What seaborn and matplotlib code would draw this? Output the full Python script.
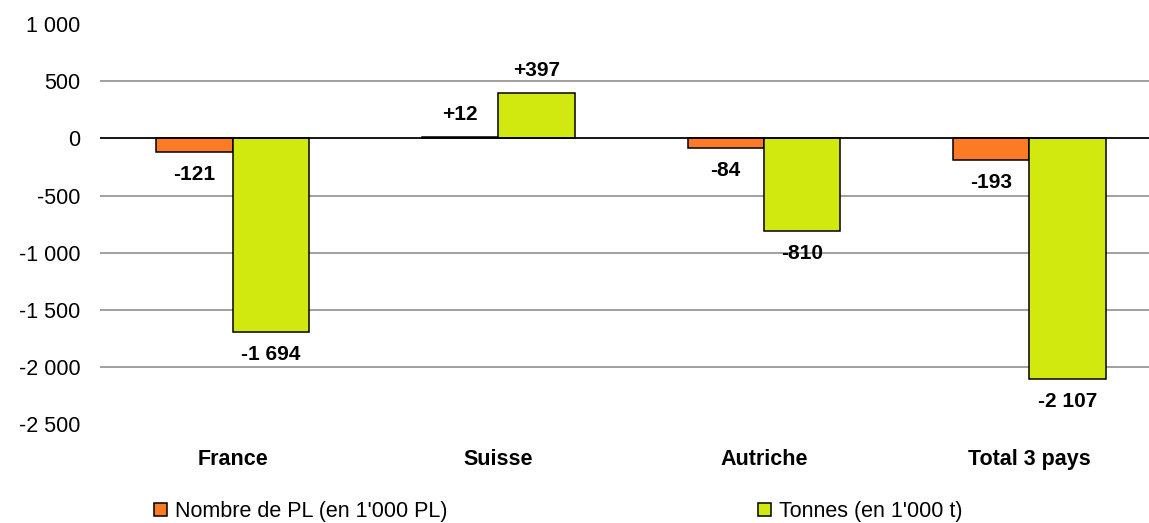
import matplotlib
matplotlib.use("Agg")
import matplotlib.pyplot as plt
from matplotlib.ticker import FuncFormatter, MultipleLocator
import seaborn as sns
import pandas as pd

# Variation par pays / séries
pays = ["France", "Suisse", "Autriche", "Total 3 pays"]
series = ["Nombre de PL (en 1'000 PL)", "Tonnes (en 1'000 t)"]
nombre_pl = [-121, 12, -84, -193]
tonnes = [-1694, 397, -810, -2107]

couleurs = ["#FD7B25", "#D2E90F"]

df = pd.DataFrame({
    "pays": pays * 2,
    "serie": [series[0]] * len(pays) + [series[1]] * len(pays),
    "valeur": nombre_pl + tonnes,
})

sns.set_theme(style="white")
plt.rcParams["font.family"] = ["Liberation Sans", "DejaVu Sans"]
plt.rcParams["text.color"] = "black"

fig = plt.figure(figsize=(11.49, 5.23), dpi=100)
ax = fig.add_axes([0.087, 0.189, 0.913, 0.765])

sns.barplot(data=df, x="pays", y="valeur", hue="serie", order=pays,
            hue_order=series, palette=couleurs, saturation=1, width=0.575,
            edgecolor="black", linewidth=1.1, ax=ax)

ax.set_ylim(-2500, 1000)
ax.set_xlim(-0.5, 3.45)
ax.yaxis.set_major_locator(MultipleLocator(500))


def fmt_milliers(v, pos=None):
    s = f"{abs(int(round(v))):,}".replace(",", " ")
    return ("-" if v < 0 else "") + s


ax.yaxis.set_major_formatter(FuncFormatter(fmt_milliers))
ax.tick_params(axis="y", length=0, pad=14, labelsize=15.5, labelcolor="black")
ax.tick_params(axis="x", length=0, pad=18, labelsize=15.5, labelcolor="black")
for lbl in ax.get_xticklabels():
    lbl.set_fontweight("bold")
ax.set_xlabel("")
ax.set_ylabel("")
for sp in ax.spines.values():
    sp.set_visible(False)

# Quadrillage horizontal sans les lignes aux bornes
ax.grid(axis="y", color="#868686", linewidth=1.1)
ax.grid(axis="x", visible=False)
ax.set_axisbelow(True)
for v, gl in zip(ax.get_yticks(), ax.get_ygridlines()):
    if v <= -2500 or v >= 1000:
        gl.set_visible(False)
ax.axhline(0, color="black", linewidth=1.2, zorder=1.5)

# Étiquettes de valeurs
for cont, vals in zip(ax.containers, [nombre_pl, tonnes]):
    for bar, v in zip(cont, vals):
        x = bar.get_x() + bar.get_width() / 2
        txt = ("+" if v > 0 else "-") + fmt_milliers(abs(v))
        off = 16 if v > 0 else -16
        ax.annotate(txt, xy=(x, v), xytext=(0, off), textcoords="offset points",
                    ha="center", va="center", fontsize=15, fontweight="bold",
                    color="black")

handles, labels = ax.get_legend_handles_labels()
ax.get_legend().remove()
fig.legend(handles, labels, loc="center", bbox_to_anchor=(0.486, 0.022),
           ncol=2, frameon=False, fontsize=15.5, handlelength=0.6,
           handleheight=0.6, handletextpad=0.35, columnspacing=14.45,
           labelcolor="black")

fig.savefig("out.png", dpi=100)
